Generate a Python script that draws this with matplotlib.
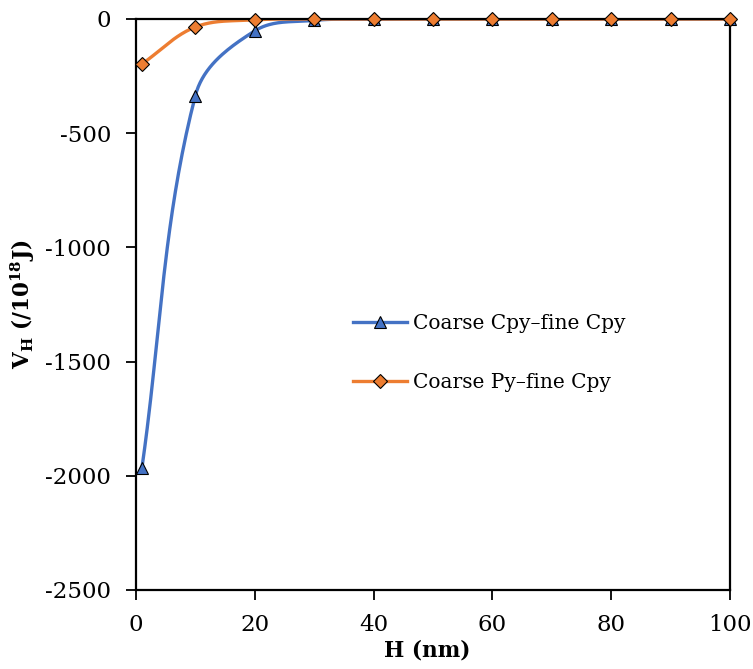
import numpy as np
import matplotlib
matplotlib.use('Agg')
from matplotlib import pyplot as plt

# separation distance H (nm) and interaction energy V_H (x1e-18 J)
h_nm = [1, 10, 20, 30, 40, 50, 60, 70, 80, 90, 100]
cpy_cpy = [-1965, -335, -52, -6, -1, 0, 0, 0, 0, 0, 0]
py_cpy = [-197, -35, -4, 0, 0, 0, 0, 0, 0, 0, 0]

plt.rcParams['font.family'] = 'DejaVu Serif'
plt.rcParams['mathtext.fontset'] = 'dejavuserif'
plt.rcParams['axes.unicode_minus'] = False

XLIM = (0, 100)
YLIM = (-2500, 0)
AX_W, AX_H = 594.0, 571.0   # axes size in pixels, used to smooth in screen space


def smooth(x, y, n=40, k=0.35):
    # bezier segments, tangents from neighbours, handle length ~ chord length
    sx = (np.asarray(x, float) - XLIM[0]) / (XLIM[1] - XLIM[0]) * AX_W
    sy = (np.asarray(y, float) - YLIM[0]) / (YLIM[1] - YLIM[0]) * AX_H
    P = np.column_stack([sx, sy])
    m = len(P)
    tang = []
    for i in range(m):
        a = P[max(i - 1, 0)]
        b = P[min(i + 1, m - 1)]
        d = b - a
        L = np.hypot(*d)
        tang.append(d / L if L > 0 else d)
    out = []
    t = np.linspace(0, 1, n)[:, None]
    for i in range(m - 1):
        p0, p3 = P[i], P[i + 1]
        L = np.hypot(*(p3 - p0))
        c1 = p0 + tang[i] * L * k
        c2 = p3 - tang[i + 1] * L * k
        seg = (1 - t) ** 3 * p0 + 3 * t * (1 - t) ** 2 * c1 + 3 * t ** 2 * (1 - t) * c2 + t ** 3 * p3
        out.append(seg)
    out = np.vstack(out)
    ox = out[:, 0] / AX_W * (XLIM[1] - XLIM[0]) + XLIM[0]
    oy = out[:, 1] / AX_H * (YLIM[1] - YLIM[0]) + YLIM[0]
    return ox, np.minimum(oy, 0)


fig = plt.figure(figsize=(7.53, 6.69), dpi=100)
ax = fig.add_axes([0.1806, 0.1181, 0.7889, 0.8535])

blue = '#4472C4'
orange = '#ED7D31'

sx, sy = smooth(h_nm, cpy_cpy)
ax.plot(sx, sy, color=blue, lw=2.4, zorder=2)
sx, sy = smooth(h_nm, py_cpy)
ax.plot(sx, sy, color=orange, lw=2.4, zorder=2)
ax.plot(h_nm, cpy_cpy, ls='none', marker='^', ms=9, mfc=blue, mec='black', mew=0.8, zorder=3,
        clip_on=False)
ax.plot(h_nm, py_cpy, ls='none', marker='D', ms=7.5, mfc=orange, mec='black', mew=0.8, zorder=4,
        clip_on=False)

# legend entries with the line running through the marker
ax.plot([], [], color=blue, lw=2.4, marker='^', ms=9, mfc=blue, mec='black', mew=0.8,
        label='Coarse Cpy\u2013fine Cpy')
ax.plot([], [], color=orange, lw=2.4, marker='D', ms=7.5, mfc=orange, mec='black', mew=0.8,
        label='Coarse Py\u2013fine Cpy')
ax.legend(loc='center left', bbox_to_anchor=(0.335, 0.415), frameon=False,
          fontsize=14.5, handlelength=2.7, handletextpad=0.25, labelspacing=2.0)

ax.set_xlim(*XLIM)
ax.set_ylim(*YLIM)
ax.set_xticks(np.arange(0, 101, 20))
ax.set_yticks(np.arange(-2500, 1, 500))
ax.tick_params(direction='out', length=7, width=1.3, labelsize=16.5,
               top=False, right=False)
ax.tick_params(axis='y', pad=11)
ax.tick_params(axis='x', pad=10)
for s in ax.spines.values():
    s.set_linewidth(1.6)

ax.set_xlabel('H (nm)', fontsize=15.5, fontweight='bold')
ax.set_ylabel(r'V$_\mathbf{H}$ (/10$^\mathbf{18}$J)', fontsize=15.5, fontweight='bold')
ax.xaxis.set_label_coords(0.49, -0.086)
ax.yaxis.set_label_coords(-0.167, 0.5)

fig.savefig('out.png', dpi=100)
